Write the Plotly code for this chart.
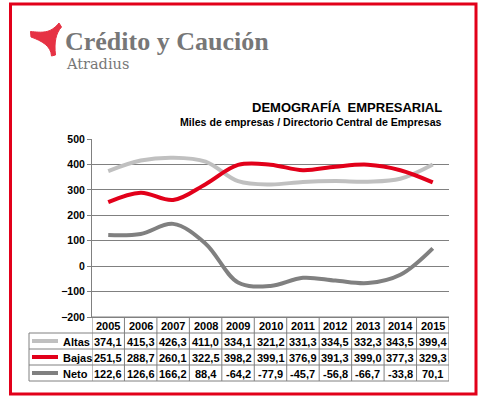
import plotly.graph_objects as go

years = ["2005", "2006", "2007", "2008", "2009", "2010", "2011", "2012", "2013", "2014", "2015"]
altas = [374.1, 415.3, 426.3, 411.0, 334.1, 321.2, 331.3, 334.5, 332.3, 343.5, 399.4]
bajas = [251.5, 288.7, 260.1, 322.5, 398.2, 399.1, 376.9, 391.3, 399.0, 377.3, 329.3]
neto = [122.6, 126.6, 166.2, 88.4, -64.2, -77.9, -45.7, -56.8, -66.7, -33.8, 70.1]
series_names = ["Altas", "Bajas", "Neto"]
series_colors = ["#c0c0c0", "#e2001a", "#808080"]
title_text = "DEMOGRAFÍA  EMPRESARIAL"
subtitle_text = "Miles de empresas / Directorio Central de Empresas"

W, H = 490, 399
ML, MR, MT, MB = 92, 41, 139, 82
PW = W - ML - MR
PH = H - MT - MB


def px(x):
    return (x - ML) / PW


def py(y):
    return (H - MB - y) / PH


def fmt(v):
    return f"{v:.1f}".replace(".", ",")


fig = go.Figure()
xs = list(range(len(years)))
for name, vals, col in zip(series_names, [altas, bajas, neto], series_colors):
    fig.add_trace(go.Scatter(x=xs, y=vals, mode="lines", name=name,
                             line=dict(color=col, width=4, shape="spline", smoothing=1.0),
                             showlegend=False, hoverinfo="skip"))

shapes = []
anns = []
grid = "#808080"
bold = dict(family="Liberation Sans, Arial", size=11, color="#000000", weight="bold")

row_tops = [317, 333, 349, 365, 381]
for i, yy in enumerate(row_tops):
    x0 = 92 if i == 0 else 29
    shapes.append(dict(type="line", xref="paper", yref="paper", x0=px(x0), x1=px(449),
                       y0=py(yy), y1=py(yy), line=dict(color=grid, width=1)))
for i in range(len(years) + 1):
    shapes.append(dict(type="line", xref="x", yref="paper", x0=i - 0.5, x1=i - 0.5,
                       y0=py(317), y1=py(381), line=dict(color=grid, width=1)))
shapes.append(dict(type="line", xref="paper", yref="paper", x0=px(29), x1=px(29),
                   y0=py(333), y1=py(381), line=dict(color=grid, width=1)))

for i, yr in enumerate(years):
    anns.append(dict(x=i, y=py(325.5), xref="x", yref="paper", text=yr, showarrow=False,
                     font=bold, xanchor="center", yanchor="middle"))
for r, (name, vals, col) in enumerate(zip(series_names, [altas, bajas, neto], series_colors)):
    cy = (row_tops[r + 1] + row_tops[r + 2]) / 2 + 0.5
    for i, v in enumerate(vals):
        anns.append(dict(x=i, y=py(cy), xref="x", yref="paper", text=fmt(v), showarrow=False,
                         font=bold, xanchor="center", yanchor="middle"))
    anns.append(dict(x=px(61), y=py(cy), xref="paper", yref="paper", text=name, showarrow=False,
                     font=bold, xanchor="left", yanchor="middle"))
    shapes.append(dict(type="line", xref="paper", yref="paper", x0=px(32), x1=px(58),
                       y0=py(cy - 0.5), y1=py(cy - 0.5), line=dict(color=col, width=4)))

anns.append(dict(x=px(444), y=py(107), xref="paper", yref="paper", text=title_text, showarrow=False,
                 font=dict(family="Liberation Sans, Arial", size=13, color="#000000", weight="bold"),
                 xanchor="right", yanchor="middle"))
anns.append(dict(x=px(444), y=py(122.5), xref="paper", yref="paper", text=subtitle_text, showarrow=False,
                 font=dict(family="Liberation Sans, Arial", size=10.6, color="#000000", weight="bold"),
                 xanchor="right", yanchor="middle"))

anns.append(dict(x=px(63), y=py(42), xref="paper", yref="paper", text="Crédito y Caución", showarrow=False,
                 font=dict(family="Liberation Serif, DejaVu Serif", size=26, color="#777777", weight="bold"),
                 xanchor="left", yanchor="middle"))
anns.append(dict(x=px(64), y=py(64), xref="paper", yref="paper", text="Atradius", showarrow=False,
                 font=dict(family="DejaVu Serif", size=14.5, color="#777777"),
                 xanchor="left", yanchor="middle"))


def P(p):
    return f"{px(p[0]):.5f},{py(p[1]):.5f}"


path = (f"M {P((30.5, 31.5))} "
        f"C {P((42, 32.5))} {P((50, 34))} {P((59, 23))} "
        f"L {P((61.5, 27))} "
        f"C {P((56, 33))} {P((54, 42))} {P((55.5, 55))} "
        f"L {P((51.5, 56))} "
        f"C {P((51, 46))} {P((42, 41))} {P((31, 37))} Z")
shapes.append(dict(type="path", xref="paper", yref="paper", path=path,
                   fillcolor="#e63244", line=dict(color="#e63244", width=1)))

shapes.append(dict(type="rect", xref="paper", yref="paper", x0=px(10.5), x1=px(476),
                   y0=py(4), y1=py(394), line=dict(color="#e2001a", width=3)))

fig.update_layout(
    width=W, height=H,
    margin=dict(l=ML, r=MR, t=MT, b=MB, pad=0),
    paper_bgcolor="white", plot_bgcolor="white",
    shapes=shapes, annotations=anns,
    xaxis=dict(range=[-0.5, len(years) - 0.5], showticklabels=False,
               showgrid=False, zeroline=False, showline=True, linecolor=grid, linewidth=1, ticks=""),
    yaxis=dict(range=[-200, 500], dtick=100, tick0=0, showline=True, linecolor=grid, linewidth=1,
               ticks="outside", ticklen=4, tickcolor=grid, gridcolor=grid, gridwidth=1,
               zeroline=False, tickfont=dict(family="Liberation Sans, Arial", size=10.5,
                                             color="#000000", weight="bold")),
    showlegend=False,
)
fig.write_html("out.html", config={"displayModeBar": False},
               post_script="document.body.style.margin='0';document.body.style.padding='0';")
